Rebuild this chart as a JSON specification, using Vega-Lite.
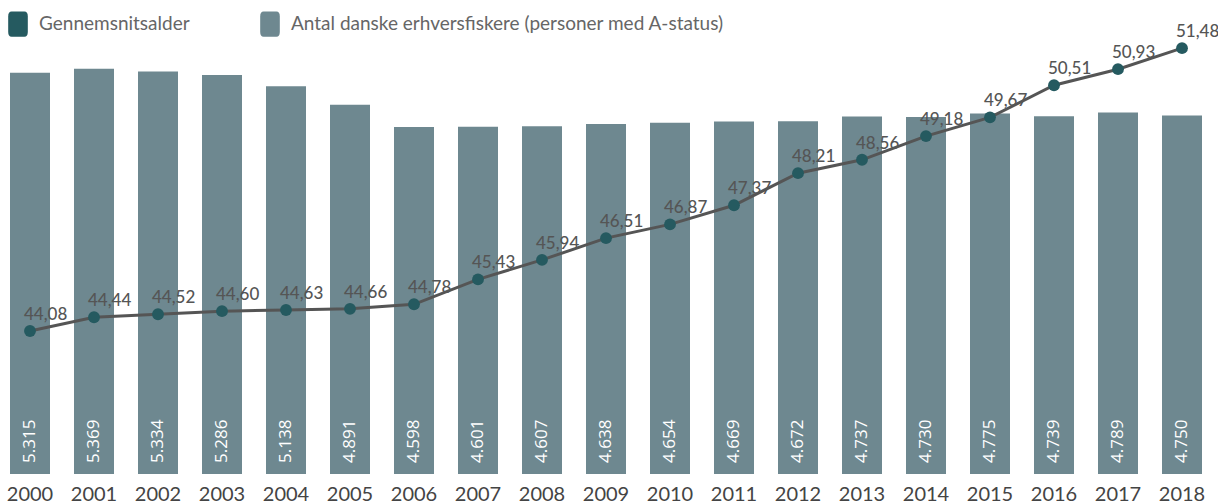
{
  "$schema": "https://vega.github.io/schema/vega-lite/v6.json",
  "width": 1218,
  "height": 474,
  "padding": {"left": 0, "top": 0, "right": 0, "bottom": 30},
  "autosize": {"type": "none"},
  "background": "white",
  "config": {
    "view": {"stroke": null},
    "font": "Lato",
    "locale": {
      "number": {"decimal": ",", "thousands": ".", "grouping": [3], "currency": ["", ""]}
    },
    "legend": {
      "orient": "none",
      "legendX": 5,
      "legendY": 11,
      "direction": "horizontal",
      "title": null,
      "symbolType": "M-0.5,-1 L0.5,-1 Q0.77,-1 0.77,-0.6 L0.77,0.6 Q0.77,1 0.5,1 L-0.5,1 Q-0.77,1 -0.77,0.6 L-0.77,-0.6 Q-0.77,-1 -0.5,-1 Z",
      "symbolSize": 650,
      "symbolStrokeWidth": 0,
      "symbolOpacity": 1,
      "labelFontSize": 19,
      "labelColor": "#666666",
      "labelOffset": 8,
      "columnPadding": 67,
      "labelLimit": 600
    }
  },
  "data": {
    "values": [
      {"year": "2000", "fiskere": 5315, "alder": 44.08},
      {"year": "2001", "fiskere": 5369, "alder": 44.44},
      {"year": "2002", "fiskere": 5334, "alder": 44.52},
      {"year": "2003", "fiskere": 5286, "alder": 44.60},
      {"year": "2004", "fiskere": 5138, "alder": 44.63},
      {"year": "2005", "fiskere": 4891, "alder": 44.66},
      {"year": "2006", "fiskere": 4598, "alder": 44.78},
      {"year": "2007", "fiskere": 4601, "alder": 45.43},
      {"year": "2008", "fiskere": 4607, "alder": 45.94},
      {"year": "2009", "fiskere": 4638, "alder": 46.51},
      {"year": "2010", "fiskere": 4654, "alder": 46.87},
      {"year": "2011", "fiskere": 4669, "alder": 47.37},
      {"year": "2012", "fiskere": 4672, "alder": 48.21},
      {"year": "2013", "fiskere": 4737, "alder": 48.56},
      {"year": "2014", "fiskere": 4730, "alder": 49.18},
      {"year": "2015", "fiskere": 4775, "alder": 49.67},
      {"year": "2016", "fiskere": 4739, "alder": 50.51},
      {"year": "2017", "fiskere": 4789, "alder": 50.93},
      {"year": "2018", "fiskere": 4750, "alder": 51.48}
    ]
  },
  "encoding": {
    "x": {
      "field": "year",
      "type": "ordinal",
      "scale": {"range": [-2, 1214], "paddingInner": 0.375, "paddingOuter": 0.1875},
      "axis": {
        "title": null,
        "domain": false,
        "ticks": false,
        "labelAngle": 0,
        "labelFontSize": 20,
        "labelColor": "#444444",
        "labelPadding": 10
      }
    }
  },
  "layer": [
    {
      "layer": [
        {
          "mark": {"type": "bar"},
          "encoding": {
            "y": {"field": "fiskere", "type": "quantitative", "scale": {"domain": [0, 6280], "nice": false}, "axis": null},
            "color": {
              "datum": "Antal danske erhversfiskere (personer med A-status)",
              "type": "nominal",
              "scale": {
                "domain": ["Gennemsnitsalder", "Antal danske erhversfiskere (personer med A-status)"],
                "range": ["#255a60", "#6e8890"]
              },
              "legend": {
                "encode": {"symbols": {"update": {"size": {"value": 650}, "shape": {"value": "M-0.5,-1 L0.5,-1 Q0.77,-1 0.77,-0.6 L0.77,0.6 Q0.77,1 0.5,1 L-0.5,1 Q-0.77,1 -0.77,0.6 L-0.77,-0.6 Q-0.77,-1 -0.5,-1 Z"}}}}
              }
            }
          }
        },
        {
          "mark": {"type": "text", "angle": 270, "align": "left", "baseline": "middle", "dx": 11, "fontSize": 17, "color": "white", "font": "Open Sans"},
          "encoding": {
            "y": {"datum": 0, "type": "quantitative"},
            "text": {"field": "fiskere", "type": "quantitative", "format": ",.0f"}
          }
        }
      ]
    },
    {
      "layer": [
        {
          "mark": {"type": "line", "color": "#555555", "strokeWidth": 3},
          "encoding": {
            "y": {"field": "alder", "type": "quantitative", "scale": {"domain": [40.34, 52.74], "zero": false, "nice": false}, "axis": null}
          }
        },
        {
          "mark": {"type": "point", "filled": true, "size": 140, "opacity": 1},
          "encoding": {
            "y": {"field": "alder", "type": "quantitative"},
            "color": {"datum": "Gennemsnitsalder", "type": "nominal"}
          }
        },
        {
          "mark": {"type": "text", "align": "left", "baseline": "alphabetic", "dx": -6, "dy": -11, "fontSize": 17, "fontWeight": 500, "color": "#555555"},
          "encoding": {
            "y": {"field": "alder", "type": "quantitative"},
            "text": {"field": "alder", "type": "quantitative", "format": ".2f"}
          }
        }
      ]
    }
  ],
  "resolve": {"scale": {"y": "independent"}}
}
